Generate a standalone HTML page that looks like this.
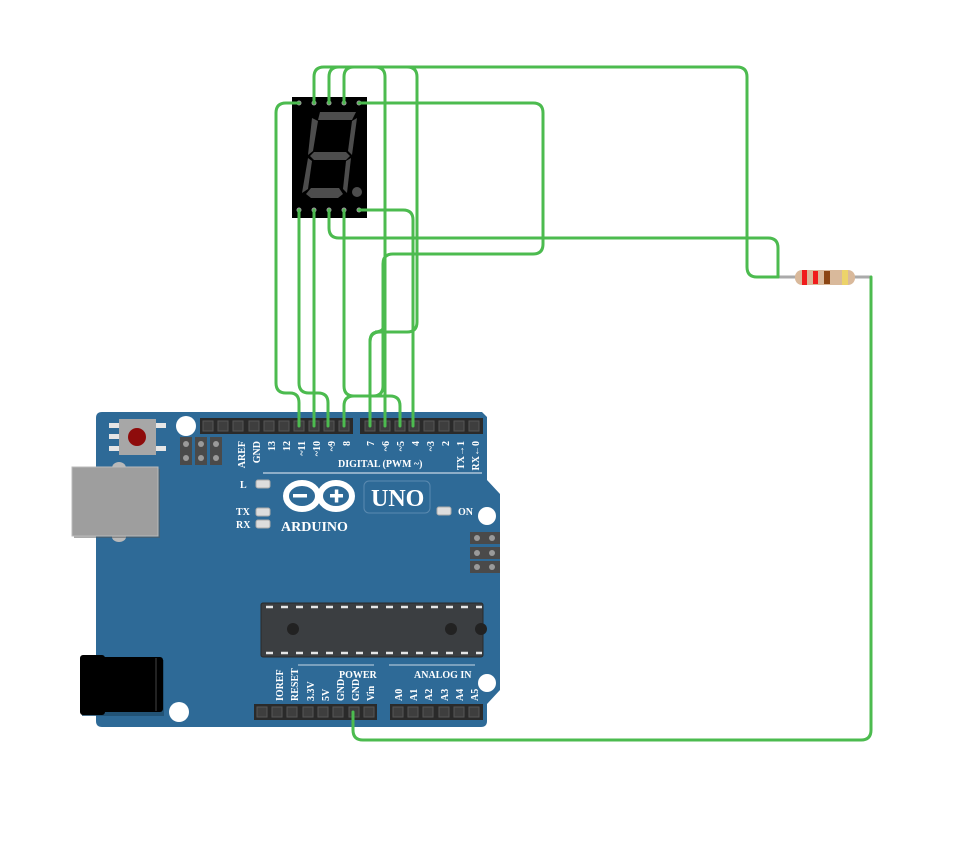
<!DOCTYPE html>
<html><head><meta charset="utf-8"><style>
html,body{margin:0;padding:0;background:#fff;}
svg{display:block;}
text{font-family:"Liberation Serif",serif;font-weight:bold;fill:#fff;}
</style></head><body>
<svg width="965" height="850" viewBox="0 0 965 850" xmlns="http://www.w3.org/2000/svg">
<!-- Board -->
<path d="M102,412 H482 L487,417 V480 L500,494 V690 L487,704 V721 Q487,727 481,727 H102 Q96,727 96,721 V418 Q96,412 102,412 Z" fill="#2e6a97"/>
<!-- USB -->
<ellipse cx="119" cy="468" rx="7" ry="6" fill="#b9b9b9"/>
<ellipse cx="119" cy="537" rx="7" ry="5" fill="#b9b9b9"/>
<rect x="74" y="469" width="86" height="69" fill="#555" opacity="0.5"/>
<rect x="72" y="467" width="86" height="69" fill="#9e9e9e" stroke="#bbb" stroke-width="1"/>
<!-- jack -->
<rect x="82" y="660" width="82" height="56" fill="#1f4d6e" opacity="0.8"/>
<rect x="80" y="655" width="25" height="60" rx="3" fill="#000"/>
<rect x="100" y="657" width="63" height="55" rx="3" fill="#000"/>
<line x1="156" y1="658" x2="156" y2="711" stroke="#444" stroke-width="1"/>
<!-- reset -->
<rect x="109" y="423" width="10" height="5" fill="#e6e6e6"/>
<rect x="109" y="434" width="10" height="5" fill="#e6e6e6"/>
<rect x="109" y="446" width="10" height="5" fill="#e6e6e6"/>
<rect x="156" y="423" width="10" height="5" fill="#e6e6e6"/>
<rect x="156" y="446" width="10" height="5" fill="#e6e6e6"/>
<rect x="119" y="419" width="37" height="36" fill="#a7a7a7"/>
<circle cx="137" cy="437" r="9" fill="#8e0c0c"/>
<!-- holes -->
<circle cx="186" cy="426" r="10" fill="#fff"/>
<circle cx="487" cy="516" r="9" fill="#fff"/>
<circle cx="487" cy="683" r="9" fill="#fff"/>
<circle cx="179" cy="712" r="10" fill="#fff"/>
<!-- ICSP left -->
<g fill="#4a4a4a"><rect x="180" y="437" width="12" height="28"/><rect x="195" y="437" width="12" height="28"/><rect x="210" y="437" width="12" height="28"/></g>
<g fill="#9a9a9a"><circle cx="186" cy="444" r="3"/><circle cx="186" cy="458" r="3"/><circle cx="201" cy="444" r="3"/><circle cx="201" cy="458" r="3"/><circle cx="216" cy="444" r="3"/><circle cx="216" cy="458" r="3"/></g>
<!-- ICSP right -->
<g fill="#4a4a4a"><rect x="470" y="532" width="30" height="12"/><rect x="470" y="547" width="30" height="12"/><rect x="470" y="561" width="30" height="12"/></g>
<g fill="#9a9a9a"><circle cx="477" cy="538" r="3"/><circle cx="492" cy="538" r="3"/><circle cx="477" cy="553" r="3"/><circle cx="492" cy="553" r="3"/><circle cx="477" cy="567" r="3"/><circle cx="492" cy="567" r="3"/></g>
<!-- headers -->
<rect x="200" y="418" width="153" height="16" fill="#2a2a2a"/>
<rect x="360" y="418" width="123" height="16" fill="#2a2a2a"/>
<rect x="254" y="704" width="123" height="16" fill="#2a2a2a"/>
<rect x="390" y="704" width="93" height="16" fill="#2a2a2a"/>
<g fill="#3e3e3e" stroke="#555" stroke-width="1">
<rect x="203" y="421" width="10" height="10"/><rect x="218" y="421" width="10" height="10"/><rect x="233" y="421" width="10" height="10"/><rect x="249" y="421" width="10" height="10"/><rect x="264" y="421" width="10" height="10"/><rect x="279" y="421" width="10" height="10"/><rect x="294" y="421" width="10" height="10"/><rect x="309" y="421" width="10" height="10"/><rect x="324" y="421" width="10" height="10"/><rect x="339" y="421" width="10" height="10"/>
<rect x="365" y="421" width="10" height="10"/><rect x="380" y="421" width="10" height="10"/><rect x="395" y="421" width="10" height="10"/><rect x="409" y="421" width="10" height="10"/><rect x="424" y="421" width="10" height="10"/><rect x="439" y="421" width="10" height="10"/><rect x="454" y="421" width="10" height="10"/><rect x="469" y="421" width="10" height="10"/>
<rect x="257" y="707" width="10" height="10"/><rect x="272" y="707" width="10" height="10"/><rect x="287" y="707" width="10" height="10"/><rect x="303" y="707" width="10" height="10"/><rect x="318" y="707" width="10" height="10"/><rect x="333" y="707" width="10" height="10"/><rect x="349" y="707" width="10" height="10"/><rect x="364" y="707" width="10" height="10"/>
<rect x="393" y="707" width="10" height="10"/><rect x="408" y="707" width="10" height="10"/><rect x="423" y="707" width="10" height="10"/><rect x="439" y="707" width="10" height="10"/><rect x="454" y="707" width="10" height="10"/><rect x="469" y="707" width="10" height="10"/>
</g>
<!-- digital labels -->
<g font-size="10">
<text transform="translate(245,441) rotate(-90)" text-anchor="end">AREF</text>
<text transform="translate(260,441) rotate(-90)" text-anchor="end">GND</text>
<text transform="translate(275,441) rotate(-90)" text-anchor="end">13</text>
<text transform="translate(290,441) rotate(-90)" text-anchor="end">12</text>
<text transform="translate(305,441) rotate(-90)" text-anchor="end">~11</text>
<text transform="translate(320,441) rotate(-90)" text-anchor="end">~10</text>
<text transform="translate(335,441) rotate(-90)" text-anchor="end">~9</text>
<text transform="translate(350,441) rotate(-90)" text-anchor="end">8</text>
<text transform="translate(374,441) rotate(-90)" text-anchor="end">7</text>
<text transform="translate(389,441) rotate(-90)" text-anchor="end">~6</text>
<text transform="translate(404,441) rotate(-90)" text-anchor="end">~5</text>
<text transform="translate(419,441) rotate(-90)" text-anchor="end">4</text>
<text transform="translate(434,441) rotate(-90)" text-anchor="end">~3</text>
<text transform="translate(449,441) rotate(-90)" text-anchor="end">2</text>
<text transform="translate(464,441) rotate(-90)" text-anchor="end">TX→1</text>
<text transform="translate(479,441) rotate(-90)" text-anchor="end">RX←0</text>
<text x="338" y="467">DIGITAL (PWM ~)</text>
</g>
<line x1="263" y1="473" x2="482" y2="473" stroke="#c8d8e6" stroke-width="1.2"/>
<!-- LEDs -->
<g fill="#ddd" stroke="#aaa" stroke-width="1">
<rect x="256" y="480" width="14" height="8" rx="2"/><rect x="256" y="508" width="14" height="8" rx="2"/><rect x="256" y="520" width="14" height="8" rx="2"/><rect x="437" y="507" width="14" height="8" rx="2"/>
</g>
<g font-size="10" font-weight="normal"><text x="240" y="488">L</text><text x="236" y="515">TX</text><text x="236" y="528">RX</text><text x="458" y="515">ON</text></g>
<!-- logo -->
<g fill="none" stroke="#fff" stroke-width="6">
<ellipse cx="302" cy="496" rx="16" ry="13"/><ellipse cx="336" cy="496" rx="16" ry="13"/>
</g>
<rect x="293" y="494" width="14" height="3.5" fill="#fff"/>
<rect x="330" y="494" width="13" height="3.5" fill="#fff"/><rect x="334.8" y="489.5" width="3.5" height="13" fill="#fff"/>
<text x="281" y="531" font-size="14">ARDUINO</text>
<rect x="364" y="481" width="66" height="32" rx="5" fill="none" stroke="#5b8ab0" stroke-width="1"/>
<text x="371" y="506" font-size="24" font-weight="normal">UNO</text>
<!-- chip -->
<rect x="261" y="603" width="222" height="54" rx="2" fill="#3b3e41" stroke="#2a2a2a" stroke-width="1"/>
<g stroke="#e6e6e6" stroke-width="2.5" stroke-dasharray="7,8">
<line x1="266" y1="607" x2="482" y2="607"/><line x1="266" y1="653" x2="482" y2="653"/>
</g>
<circle cx="293" cy="629" r="6" fill="#222"/><circle cx="451" cy="629" r="6" fill="#222"/><circle cx="481" cy="629" r="6" fill="#222"/>
<line x1="298" y1="665" x2="374" y2="665" stroke="#c8d8e6" stroke-width="1"/>
<line x1="389" y1="665" x2="475" y2="665" stroke="#c8d8e6" stroke-width="1"/>
<g font-size="10">
<text x="339" y="678">POWER</text><text x="414" y="678">ANALOG IN</text>
<text transform="translate(283,701) rotate(-90)">IOREF</text>
<text transform="translate(298,701) rotate(-90)">RESET</text>
<text transform="translate(314,701) rotate(-90)">3.3V</text>
<text transform="translate(329,701) rotate(-90)">5V</text>
<text transform="translate(344,701) rotate(-90)">GND</text>
<text transform="translate(359,701) rotate(-90)">GND</text>
<text transform="translate(374,701) rotate(-90)">Vin</text>
<text transform="translate(402,701) rotate(-90)">A0</text>
<text transform="translate(417,701) rotate(-90)">A1</text>
<text transform="translate(432,701) rotate(-90)">A2</text>
<text transform="translate(448,701) rotate(-90)">A3</text>
<text transform="translate(463,701) rotate(-90)">A4</text>
<text transform="translate(478,701) rotate(-90)">A5</text>
</g>
<!-- 7 segment -->
<rect x="292" y="97" width="75" height="121" fill="#000"/>
<g fill="#4d4d4d">
<polygon points="320,112 356,112 352,120 318,120"/>
<polygon points="312,118 318,121 313,151 308,155"/>
<polygon points="357,118 352,121 348,151 352,155"/>
<polygon points="310,156 314,152 346,152 350,156 346,160 314,160"/>
<polygon points="308,158 312,161 308,189 302,193"/>
<polygon points="351,158 346,161 343,189 347,193"/>
<polygon points="306,194 311,188 339,188 343,194 338,198 311,198"/>
<circle cx="357" cy="192" r="5"/>
</g>
<g fill="#9a9a9a"><circle cx="299" cy="103" r="2.5"/><circle cx="314" cy="103" r="2.5"/><circle cx="329" cy="103" r="2.5"/><circle cx="344" cy="103" r="2.5"/><circle cx="359" cy="103" r="2.5"/><circle cx="299" cy="210" r="2.5"/><circle cx="314" cy="210" r="2.5"/><circle cx="329" cy="210" r="2.5"/><circle cx="344" cy="210" r="2.5"/><circle cx="359" cy="210" r="2.5"/></g>
<!-- resistor -->
<line x1="778" y1="277" x2="872" y2="277" stroke="#aaa" stroke-width="3"/>
<rect x="795" y="270" width="60" height="15" rx="7" fill="#d9b99b"/>
<rect x="802" y="270" width="5" height="15" fill="#f01c1c"/>
<rect x="813" y="271" width="5" height="13" fill="#f01c1c"/>
<rect x="824" y="271" width="6" height="13" fill="#8b4513"/>
<rect x="842" y="270" width="6" height="15" fill="#ecd36a"/>
<!-- wires -->
<g fill="none" stroke="#4cbb4f" stroke-width="3" stroke-linecap="round">
<path d="M299,103 H286 Q276,103 276,113 V383 Q276,393 286,393 H290 Q299,393 299,403 V426"/>
<path d="M299,210 V383 Q299,393 309,393 H318 Q328,393 328,403 V426"/>
<path d="M314,210 V426"/>
<path d="M329,210 V228 Q329,238 339,238 H768 Q778,238 778,248 V277"/>
<path d="M344,210 V386 Q344,396 354,396 H373 Q383,396 383,386 V264 Q383,254 393,254 H533 Q543,254 543,244 V113 Q543,103 533,103 H359"/>
<path d="M344,426 V406 Q344,396 354,396 H390 Q400,396 400,406 V426"/>
<path d="M385,426 V264"/>
<path d="M314,103 V77 Q314,67 324,67 H737 Q747,67 747,77 V267 Q747,277 757,277 H778"/>
<path d="M344,103 V77 Q344,67 354,67 H375 Q385,67 385,77 V322 Q385,332 375,332 H378 Q370,332 370,342 V426"/>
<path d="M329,103 V77 Q329,67 339,67 H407 Q417,67 417,77 V322 Q417,332 407,332 H380 Q370,332 370,342"/>
<path d="M359,210 H403 Q413,210 413,220 V426"/>
<path d="M871,277 V730 Q871,740 861,740 H363 Q353,740 353,730 V712"/>
</g>
</svg>
</body></html>
